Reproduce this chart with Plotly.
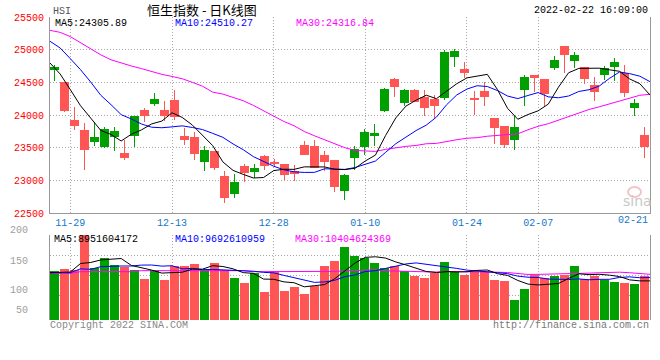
import plotly.graph_objects as go

# ---------------- data ----------------
dates = ["2021-11-25","2021-11-26","2021-11-29","2021-11-30","2021-12-01","2021-12-02","2021-12-03",
         "2021-12-06","2021-12-07","2021-12-08","2021-12-09","2021-12-10","2021-12-13","2021-12-14",
         "2021-12-15","2021-12-16","2021-12-17","2021-12-20","2021-12-21","2021-12-22","2021-12-23",
         "2021-12-24","2021-12-28","2021-12-29","2021-12-30","2021-12-31","2022-01-03","2022-01-04",
         "2022-01-05","2022-01-06","2022-01-07","2022-01-10","2022-01-11","2022-01-12","2022-01-13",
         "2022-01-14","2022-01-17","2022-01-18","2022-01-19","2022-01-20","2022-01-21","2022-01-24",
         "2022-01-25","2022-01-26","2022-01-27","2022-01-28","2022-01-31","2022-02-04","2022-02-07",
         "2022-02-08","2022-02-09","2022-02-10","2022-02-11","2022-02-14","2022-02-15","2022-02-16",
         "2022-02-17","2022-02-18","2022-02-21","2022-02-22"]

opens = [24684, 24500, 23919, 23776, 23582, 23506, 23664, 23424, 23684, 24082,
         24164, 24072, 24235, 23684, 23659, 23276, 23454, 23072, 22792, 23225,
         23123, 23378, 23286, 23256, 23138, 23546, 23521, 23394, 23317, 22833,
         23342, 23511, 23674, 24056, 24556, 24184, 24388, 24271, 24245, 24260,
         24893, 24704, 24260, 24362, 23954, 23837, 23623, 24383, 24617, 24551,
         24719, 25061, 24832, 24740, 24459, 24617, 24730, 24643, 24108, 23694]
closes = [24740, 24067, 23837, 23460, 23659, 23791, 23761, 23337, 23980, 23990,
          24250, 23980, 23970, 23623, 23409, 23470, 23184, 22725, 22970, 23108,
          23195, 23215, 23256, 23077, 23098, 23383, 23189, 23276, 22899, 23077,
          23485, 23745, 23725, 24398, 24424, 24388, 24199, 24108, 24133, 24969,
          24985, 24643, 24230, 24281, 23807, 23546, 23812, 24587, 24567, 24322,
          24842, 24918, 24918, 24551, 24357, 24714, 24806, 24332, 24184, 23516]
highs = [24760, 24510, 24123, 23878, 23893, 23812, 23812, 23623, 23990, 24102,
         24332, 24220, 24388, 23801, 23740, 23531, 23454, 23149, 23103, 23256,
         23256, 23394, 23327, 23256, 23240, 23597, 23613, 23444, 23317, 23098,
         23521, 23791, 23863, 24414, 24566, 24398, 24403, 24388, 24312, 25000,
         25010, 24806, 24373, 24500, 23954, 23837, 23980, 24612, 24617, 24551,
         24908, 25061, 24969, 24740, 24577, 24755, 24872, 24765, 24245, 23822]
lows = [24516, 24050, 23766, 23164, 23521, 23500, 23445, 23307, 23506, 23888,
        24143, 23908, 23919, 23546, 23307, 23138, 23154, 22654, 22730, 22970,
        23036, 23164, 23215, 23001, 22985, 23383, 23189, 23139, 22827, 22695,
        23164, 23394, 23531, 24040, 24271, 24133, 24199, 23990, 23950, 24235,
        24730, 24561, 24000, 24133, 23557, 23500, 23470, 24143, 24357, 24143,
        24694, 24643, 24719, 24475, 24220, 24541, 24526, 24281, 23990, 23337]

ma5 = [24796, 24627, 24388, 24143, 23953, 23763, 23702, 23602, 23706, 23772,
       23864, 23907, 24034, 23963, 23846, 23690, 23531, 23282, 23152, 23091,
       23036, 23043, 23149, 23170, 23168, 23206, 23201, 23205, 23169, 23165,
       23185, 23296, 23386, 23686, 23955, 24136, 24227, 24303, 24250, 24359,
       24479, 24568, 24592, 24622, 24389, 24101, 23935, 24007, 24064, 24167,
       24426, 24647, 24713, 24710, 24717, 24692, 24669, 24552, 24479, 24306]
ma10 = [25128, 25026, 24862, 24694, 24505, 24301, 24158, 24005, 23939, 23862,
        23813, 23805, 23818, 23834, 23809, 23777, 23719, 23658, 23557, 23469,
        23363, 23287, 23216, 23161, 23130, 23121, 23122, 23177, 23170, 23167,
        23196, 23249, 23295, 23428, 23560, 23661, 23762, 23845, 23968, 24157,
        24307, 24397, 24448, 24436, 24374, 24290, 24251, 24299, 24343, 24278,
        24264, 24291, 24360, 24387, 24442, 24559, 24658, 24633, 24594, 24510]
ma30 = [25296, 25265, 25200, 25110, 25015, 24920, 24845, 24795, 24750, 24710,
        24665, 24622, 24590, 24555, 24500, 24440, 24350, 24320, 24269, 24218,
        24147, 24065, 23988, 23901, 23835, 23748, 23682, 23620, 23569, 23499,
        23457, 23447, 23443, 23474, 23500, 23520, 23534, 23560, 23565, 23598,
        23622, 23644, 23653, 23675, 23688, 23691, 23712, 23774, 23827, 23867,
        23922, 23979, 24034, 24084, 24125, 24170, 24224, 24259, 24302, 24317]

# volume in units of 1e8
volumes = [111.3, 116.4, 113.5, 195, 118.6, 139.9, 124.5, 121.2, 113.5, 93.7,
           113.5, 91.5, 122.3, 122.3, 127.4, 113.5, 129.5, 113.5, 96.5, 85.5,
           106.2, 65.8, 111.3, 68, 76.1, 61.4, 78.3, 123, 133.3, 164.8,
           145, 140.5, 129.5, 118.5, 123, 112, 101, 96.5, 107.5, 131.8,
           109.8, 102.5, 111.3, 112, 91.5, 90, 47.5, 71.7, 102.5, 96.5,
           101, 103.2, 122.3, 93.7, 100.3, 91.5, 87.8, 85.5, 82.7, 100.3]
vol_ma5 = [107.6, 107.6, 109, 127.8, 130, 135.7, 137.3, 138.8, 123.5, 118.6,
           113.3, 106.7, 106.9, 108.7, 115.4, 115.4, 123, 121.2, 116.1, 107.7,
           106.2, 93.5, 93.1, 87.4, 85.5, 76.5, 79, 81.4, 94.4, 112.2,
           128.9, 141.3, 142.6, 139.7, 131.3, 124.7, 116.8, 110.2, 108, 109.8,
           109.3, 109.6, 112.6, 113.5, 105.4, 101.5, 90.5, 82.5, 80.6, 81.6,
           83.8, 95, 105.1, 103.3, 104.1, 102.2, 99.1, 91.8, 89.6, 89.5]
vol_ma10 = [107.6, 107.6, 107.6, 116, 115, 120.8, 122.3, 122.3, 122.3, 124.3,
            124.5, 122, 122.9, 116.1, 117, 114.3, 114.8, 114.1, 112.4, 111.6,
            110.8, 108.3, 107.2, 101.7, 96.6, 91.4, 86.3, 87.2, 90.9, 98.8,
            102.7, 110.2, 112, 117, 121.7, 126.8, 129.1, 126.4, 123.8, 120.5,
            117, 113.2, 111.4, 110.7, 107.6, 105.4, 100, 97.6, 97.1, 93.5,
            92.7, 92.7, 93.8, 92, 92.9, 93, 97.1, 98.4, 96.5, 96.9]
vol_ma30 = [106.2, 106.2, 106.2, 109.8, 109.8, 109.8, 109.8, 109.8, 109.8, 112,
            112, 112, 112, 112, 112, 112, 112, 112, 112, 112,
            109.8, 109.8, 109.8, 109.8, 109.8, 109.8, 109.5, 110, 110.5, 111.5,
            112.7, 113.5, 114, 111.6, 111.8, 110.8, 110.1, 109.2, 109, 110.3,
            110.2, 110.5, 110.2, 109.8, 108.6, 107.9, 105.1, 103.7, 103.9, 104.3,
            104.1, 105.4, 105.7, 106.6, 107.4, 108.4, 108.7, 107.5, 105.8, 104.0]

tick_dates = ["11-29", "12-13", "12-28", "01-10", "01-24", "02-07", "02-21"]
price_ticks = [22500, 23000, 23500, 24000, 24500, 25000, 25500]
vol_tick_labels = ["200", "150", "100", "50"]
price_header = {"MA5": "24305.89", "MA10": "24510.27", "MA30": "24316.84"}
vol_header = {"MA5": "8951604172", "MA10": "9692610959", "MA30": "10404624369"}
title_text = "恒生指数 - 日K线图"
symbol = "HSI"
stamp = "2022-02-22 16:09:00"

# ---------------- styling / layout ----------------
W, H = 660, 360
L, R, T, B = 50, 10, 17, 40
PW, PH = W - L - R, H - T - B
UP, DOWN = "#00A000", "#FF5555"
GRID = "#A8A8A8"
AXIS = "#999999"
MONO = "Liberation Mono"

n = len(dates)
idx = list(range(n))
# MA lines and date grid lines are spread edge to edge across the frame
line_x = [i * n / (n - 1) - 0.45 for i in idx]
md = [d[5:] for d in dates]
tick_idx = [md.index(t) for t in tick_dates]
cols = [UP if c >= o else DOWN for o, c in zip(opens, closes)]

def px(x):
    return (x - L) / PW

def py(y):
    return (H - B - y) / PH

price_bottom = py(213)
vol_top = py(235)

fig = go.Figure()
# wicks
fig.add_trace(go.Bar(x=idx, y=[h - l for h, l in zip(highs, lows)], base=lows, width=0.1,
                     marker=dict(color=cols, line=dict(width=0)), xaxis="x", yaxis="y",
                     hoverinfo="skip"))
# bodies
fig.add_trace(go.Bar(x=idx, y=[max(abs(c - o), 16) for o, c in zip(opens, closes)],
                     base=[min(o, c) for o, c in zip(opens, closes)], width=0.9,
                     marker=dict(color=cols, line=dict(width=0)), xaxis="x", yaxis="y",
                     hoverinfo="skip"))
for series, colr in ((ma30, "#FF00FF"), (ma10, "#0000FF"), (ma5, "#000000")):
    fig.add_trace(go.Scatter(x=line_x, y=series, mode="lines", line=dict(color=colr, width=1),
                             xaxis="x", yaxis="y", hoverinfo="skip"))
# volume
fig.add_trace(go.Bar(x=idx, y=volumes, width=0.9, marker=dict(color=cols, line=dict(width=0)),
                     xaxis="x2", yaxis="y2", hoverinfo="skip"))
for series, colr in ((vol_ma30, "#FF00FF"), (vol_ma10, "#0000FF"), (vol_ma5, "#000000")):
    fig.add_trace(go.Scatter(x=line_x, y=series, mode="lines", line=dict(color=colr, width=1),
                             xaxis="x2", yaxis="y2", hoverinfo="skip"))

grid_vals = [line_x[i] for i in tick_idx[:-1]]
xcommon = dict(range=[-0.45, n - 0.45], tickmode="array", tickvals=grid_vals,
               showgrid=True, gridcolor=GRID, griddash="1px,2px", gridwidth=1,
               zeroline=False, ticks="", fixedrange=True)
fig.update_layout(
    width=W, height=H, margin=dict(l=L, r=R, t=T, b=B, pad=0),
    paper_bgcolor="white", plot_bgcolor="white", showlegend=False, barmode="overlay",
    bargap=0,
    xaxis=dict(**xcommon, domain=[0, 1], anchor="y", ticktext=tick_dates[:-1],
               tickfont=dict(family=MONO, size=10, color="#1478C8"),
               showline=True, linecolor=AXIS, linewidth=1),
    yaxis=dict(domain=[price_bottom, 1], range=[price_ticks[0], price_ticks[-1]],
               tickmode="array", tickvals=price_ticks, ticktext=[str(v) for v in price_ticks],
               ticks="", tickfont=dict(family=MONO, size=10, color="#FF0000"), ticklabelstandoff=3,
               showgrid=True, gridcolor=GRID, griddash="1px,2px", gridwidth=1, zeroline=False,
               showline=True, mirror=True, linecolor=AXIS, linewidth=1, fixedrange=True),
    xaxis2=dict(**xcommon, domain=[0, 1], anchor="y2", showticklabels=False, showline=False),
    yaxis2=dict(domain=[0, vol_top], range=[3.5, 190.5], tickmode="array",
                tickvals=[57.4, 101.4, 145.4, 190.5], showticklabels=False, ticks="",
                showgrid=True, gridcolor=GRID, griddash="1px,2px", gridwidth=1, zeroline=False,
                showline=True, mirror=True, linecolor=AXIS, linewidth=1, fixedrange=True),
)

ann = []
def text(t, x, y, color, size=10, anchor="left", family=MONO, **kw):
    ann.append(dict(text=t, x=px(x), y=py(y), xref="paper", yref="paper", showarrow=False,
                    xanchor=anchor, yanchor="middle", font=dict(family=family, size=size, color=color),
                    borderpad=0, **kw))

text(symbol, 52, 12, "#555555", 10)
text(title_text, 202, 9.5, "#000000", 13, anchor="center", family="Noto Sans CJK SC")
text(stamp, 649, 11, "#000000", 10, anchor="right")
text("MA5:" + price_header["MA5"], 54, 24, "#000000")
text("MA10:" + price_header["MA10"], 174, 24, "#0000FF")
text("MA30:" + price_header["MA30"], 295, 24, "#FF00FF")
text("MA5:" + vol_header["MA5"], 53, 239, "#000000")
text("MA10:" + vol_header["MA10"], 174, 239, "#0000FF")
text("MA30:" + vol_header["MA30"], 294, 239, "#FF00FF")
for lab, yy in zip(vol_tick_labels, [230.7, 261, 290.7, 310.7]):
    text(lab, 29, yy, "#A0A0A0", 10, anchor="right")
text(tick_dates[-1], 649, 221, "#1478C8", 10, anchor="right")
text("Copyright 2022 SINA.COM", 49, 325, "#888888", 10)
text("http://finance.sina.com.cn", 650, 325, "#777777", 10, anchor="right")
text("sina", 637, 201, "#C8C8C8", 14, anchor="center", family="DejaVu Sans")
fig.update_layout(annotations=ann)
fig.add_shape(type="circle", xref="paper", yref="paper", x0=px(628), x1=px(641), y0=py(197), y1=py(187),
              line=dict(color="#F2C4C4", width=2), fillcolor="rgba(0,0,0,0)", layer="above")

fig.write_html("out.html", config={"displayModeBar": False},
               post_script="document.body.style.margin='0';")
